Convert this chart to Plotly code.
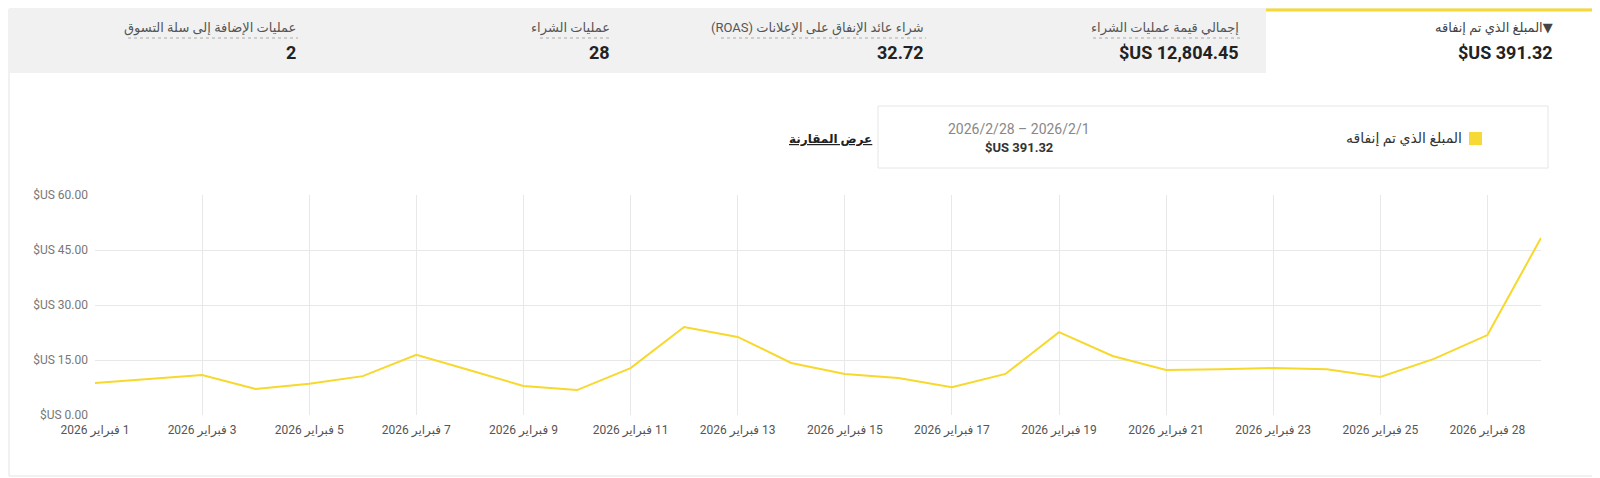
import plotly.graph_objects as go

days = list(range(1, 29))
spend = [8.7, 9.8, 10.9, 7.1, 8.5, 10.6, 16.4, 12.2, 7.9, 6.8, 12.8, 24.0, 21.3, 14.2,
         11.2, 10.1, 7.6, 11.2, 22.6, 16.1, 12.3, 12.5, 12.8, 12.5, 10.4, 15.3, 21.8, 48.3]
tick_days = list(range(1, 29, 2))
tick_labels = [1, 3, 5, 7, 9, 11, 13, 15, 17, 19, 21, 23, 25, 28]
tick_text = ["\u202B%d فبراير 2026\u202C" % d for d in tick_labels]
y_ticks = [0, 15, 30, 45, 60]
y_text = ["$US %.2f" % v for v in y_ticks]

RLE, PDF = "\u202B", "\u202C"
header_labels = ["▼المبلغ الذي تم إنفاقه", "إجمالي قيمة عمليات الشراء",
                 "شراء عائد الإنفاق على الإعلانات (ROAS)", "عمليات الشراء",
                 "عمليات الإضافة إلى سلة التسوق"]
header_values = ["$US 391.32", "$US 12,804.45", "32.72", "28", "2"]
header_x = [1547, 1233, 918, 604, 290]

W, H = 1600, 478
L, R, T, B = 87, 1533, 187, 407
def px(x): return (x - L) / (R - L)
def py(y): return (B - y) / (B - T)

fig = go.Figure(go.Scatter(x=days, y=spend, mode="lines",
                           line=dict(color="#f7d82c", width=2), hoverinfo="skip"))

shapes = []
def rect(x0, y0, x1, y1, **kw):
    shapes.append(dict(type="rect", xref="paper", yref="paper", x0=px(x0), x1=px(x1),
                       y0=py(y1), y1=py(y0), layer="below", **kw))
def line(x0, y0, x1, y1, **kw):
    shapes.append(dict(type="line", xref="paper", yref="paper", x0=px(x0), x1=px(x1),
                       y0=py(y0), y1=py(y1), **kw))

rect(1, 1, 1598, 468, line=dict(color="#e3e3e3", width=1), fillcolor="white")
rect(1, 1, 1258, 65, line=dict(width=0), fillcolor="#f1f1f1")
line(1258, 2, 1598, 2, line=dict(color="#f7d936", width=3))
rect(870, 98, 1540, 160, line=dict(color="#e6e6e6", width=1), fillcolor="white")
rect(1461, 124, 1474, 137, line=dict(width=0), fillcolor="#f7d936")

ann = []
def text(x, y, s, size, color, anchor="right", bold=False):
    ann.append(dict(x=px(x), y=py(y), xref="paper", yref="paper", text=("<b>%s</b>" % s) if bold else s,
                    showarrow=False, xanchor=anchor, yanchor="middle",
                    font=dict(size=size, color=color)))

label_w = [118, 148, 205, 72, 170]
for i in range(5):
    text(header_x[i], 20, RLE + header_labels[i] + PDF, 13, "#444" if i == 0 else "#555")
    text(header_x[i], 44, header_values[i], 18, "#222", bold=True)
    if i > 0:
        line(header_x[i] - label_w[i], 30, header_x[i], 30, line=dict(color="#aaa", width=1, dash="dot"))
text(1456, 130, "المبلغ الذي تم إنفاقه", 14, "#333")
text(1011, 121, "2026/2/28 – 2026/2/1", 14, "#888", anchor="center")
text(1011, 139, "$US 391.32", 13, "#333", anchor="center", bold=True)
text(822, 131, "<u>عرض المقارنة</u>", 12, "#222", anchor="center", bold=True)

fig.update_layout(
    width=W, height=H, margin=dict(l=L, r=W - R, t=T, b=H - B),
    paper_bgcolor="white", plot_bgcolor="white", showlegend=False,
    font=dict(family="Roboto, 'Noto Sans', 'DejaVu Sans', sans-serif"),
    shapes=shapes, annotations=ann,
    xaxis=dict(range=[1, 28], tickvals=tick_days, ticktext=tick_text, showgrid=True,
               gridcolor="#e8e8e8", zeroline=False, showline=False,
               tickfont=dict(size=12, color="#555"), ticks="", ticklabelstandoff=6),
    yaxis=dict(range=[0, 60], tickvals=y_ticks, ticktext=y_text, showgrid=True,
               gridcolor="#e8e8e8", zeroline=False, tickfont=dict(size=12, color="#777"),
               ticks="", ticklabelstandoff=6),
)
fig.write_html("out.html")
